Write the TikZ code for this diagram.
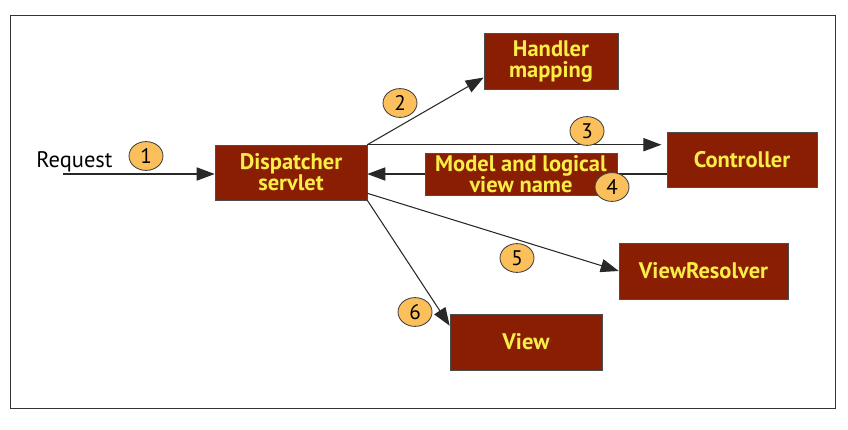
\documentclass[tikz,border=0pt]{standalone}
\usepackage{fontspec}
\setmainfont{PT Sans}
\definecolor{boxred}{RGB}{138, 30, 2}
\definecolor{labelyellow}{RGB}{250, 238, 70}
\definecolor{numorange}{RGB}{251, 192, 92}
\definecolor{lineblack}{RGB}{40, 40, 40}
\usetikzlibrary{shapes.geometric, arrows.meta, positioning, calc, backgrounds}

\tikzset{
  flowbox/.style={draw=black!70, fill=boxred, text=labelyellow, align=center,
    font=\fontsize{16}{15}\selectfont\bfseries, inner sep=2pt},
  numball/.style={ellipse, draw=black!75, fill=numorange, line width=0.6pt,
    minimum width=0.85cm, minimum height=0.72cm, inner sep=0pt,
    font=\fontsize{15}{15}\selectfont},
  flowarrow/.style={draw=lineblack, line width=0.75pt,
    -{Triangle[length=0.45cm, width=0.33cm]}}
}

\begin{document}
\begin{tikzpicture}[x=0.025cm, y=-0.025cm]
  \useasboundingbox (0,0) rectangle (848,429);
  \draw[black!80, line width=0.7pt] (10,15) rectangle (835,408);

  % boxes
  \node[flowbox, minimum width=3.8cm, minimum height=1.375cm] (disp) at (291,172.5) {Dispatcher\\servlet};
  \node[flowbox, minimum width=3.35cm, minimum height=1.4cm] (handler) at (551,61.5) {Handler\\mapping};
  \node[flowbox, minimum width=3.75cm, minimum height=1.375cm] (ctrl) at (742,159.5) {Controller};
  \node[flowbox, minimum width=4.8cm, minimum height=1.05cm, inner ysep=0pt] (model) at (521,174) {Model and logical\\view name};
  \node[flowbox, minimum width=4.225cm, minimum height=1.4cm] (resolver) at (703.5,271) {ViewResolver};
  \node[flowbox, minimum width=3.8cm, minimum height=1.4cm] (view) at (526,342) {View};

  % request
  \node[font=\fontsize{16}{16}\selectfont, anchor=base west, inner sep=0pt] (request) at (36,167) {Request};
  \coordinate (reqstart) at (63,174);

  % connectors
  \draw[flowarrow] (reqstart) -- (reqstart -| disp.west);
  \draw[flowarrow] (disp.north east) -- ([yshift=-0.4cm]handler.west);
  \draw[flowarrow, shorten >=5\pgflinewidth] (disp.north east) -- (ctrl.west |- disp.north east);
  \begin{scope}[on background layer]
    \draw[flowarrow] (ctrl.west |- model.center) -- (disp.east |- model.center);
  \end{scope}
  \draw[flowarrow] ([yshift=0.175cm]disp.south east) -- (resolver.west);
  \draw[flowarrow] (disp.south east) -- ([yshift=-0.3cm]view.north west);

  % step numbers
  \node[numball] (num1) at (146,156) {1};
  \node[numball] (num2) at (400,103) {2};
  \node[numball] (num3) at (587,131) {3};
  \node[numball] (num4) at (612,187) {4};
  \node[numball] (num5) at (517,258) {5};
  \node[numball] (num6) at (415,312) {6};
\end{tikzpicture}
\end{document}
